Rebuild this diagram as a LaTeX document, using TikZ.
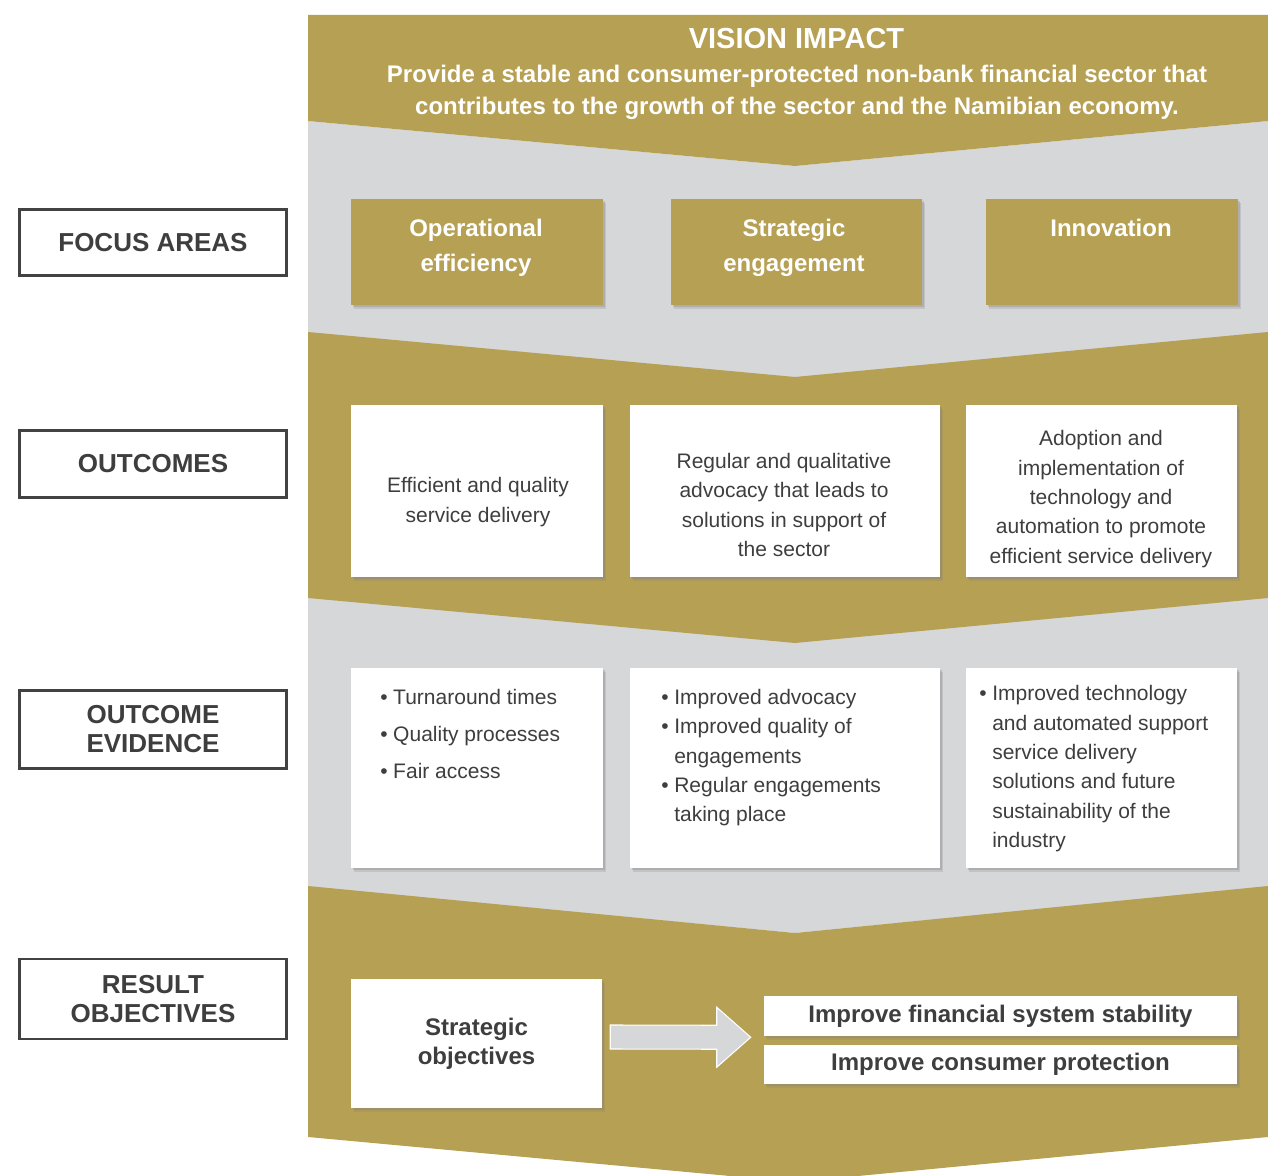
\documentclass[tikz,border=0pt]{standalone}
\usepackage{fontspec}
\setmainfont{Liberation Sans}
\usetikzlibrary{shadows,calc}
\definecolor{gold}{RGB}{182,160,83}
\definecolor{band}{RGB}{214,215,217}
\definecolor{ink}{RGB}{62,62,62}
\definecolor{frame}{RGB}{66,66,66}
% bullet item with hanging indent
\newcommand\itm[1]{\makebox[9.75pt][l]{\textbullet}#1}
\newcommand\cnt[1]{\hspace*{9.75pt}#1}
\begin{document}
\begin{tikzpicture}[x=0.75pt,y=-0.75pt,
  boxshadow/.style={
    drop shadow={opacity=0.22,shadow xshift=2.6pt,shadow yshift=-3pt},
    drop shadow={opacity=0.3,shadow xshift=1.2pt,shadow yshift=-1.4pt}},
  labelbox/.style={draw=frame,line width=2.2pt,fill=white,inner sep=0pt,
    minimum width=200pt,align=center,text=ink,
    font=\fontsize{19.5pt}{21.75pt}\selectfont\bfseries},
  focusbox/.style={fill=gold,boxshadow,inner sep=0pt,minimum height=79.5pt},
  focustext/.style={anchor=north,inner sep=0pt,align=center,text=white,
    font=\fontsize{18pt}{26.25pt}\selectfont\bfseries},
  whitebox/.style={fill=white,boxshadow,inner sep=0pt},
  bodytext/.style={inner sep=0pt,text=ink,font=\fontsize{15.75pt}{22pt}\selectfont},
  listtext/.style={bodytext,anchor=north west,align=left},
  goaltext/.style={text=ink,font=\fontsize{18pt}{21.75pt}\selectfont\bfseries,align=center},
  arrowfill/.style={fill=band,draw=white,line width=0.8pt}
]
\useasboundingbox (0,0) rectangle (1268,1176);

% chevron bands
\fill[band] (308,121) -- (795,166) -- (1268,121) -- (1268,887) -- (795,933) -- (308,887) -- cycle;
\fill[gold] (308,15) -- (1268,15) -- (1268,121) -- (795,166) -- (308,121) -- cycle;
\fill[gold] (308,332) -- (795,377) -- (1268,332) -- (1268,598) -- (795,643) -- (308,598) -- cycle;
\fill[gold] (308,886) -- (795,933) -- (1268,886) -- (1268,1137) -- (858,1176) -- (730,1176) -- (308,1137) -- cycle;

% vision statement
\node[text=white,font=\fontsize{21.75pt}{24pt}\selectfont\bfseries] (vtitle) at (796.5,39) {VISION IMPACT};
\node[text=white,align=center,font=\fontsize{18pt}{24pt}\selectfont\bfseries] (vtext) at (797,92)
  {Provide a stable and consumer-protected non-bank financial sector that\\
   contributes to the growth of the sector and the Namibian economy.};

% row labels
\node[labelbox,minimum height=50pt] (lfocus) at (153,242.5) {FOCUS AREAS};
\node[labelbox,minimum height=50pt] (lout) at (153,464) {OUTCOMES};
\node[labelbox,minimum height=58pt] (levid) at (153,729.5) {OUTCOME\\EVIDENCE};
\node[labelbox,minimum height=60pt] (lres) at (153,999) {RESULT\\OBJECTIVES};

% focus areas
\node[focusbox,minimum width=189pt] (fa1) at (477,252) {};
\node[focusbox,minimum width=188.25pt] (fa2) at (796.5,252) {};
\node[focusbox,minimum width=189pt] (fa3) at (1112,252) {};
\node[focustext] (fa1t) at (476,219) {Operational\\efficiency};
\node[focustext] (fa2t) at (794,219) {Strategic\\engagement};
\node[focustext] (fa3t) at (1111,219) {Innovation};

% outcomes
\node[whitebox,minimum width=189pt,minimum height=129pt] (oc1) at (477,491) {};
\node[whitebox,minimum width=232.5pt,minimum height=129pt] (oc2) at (785,491) {};
\node[whitebox,minimum width=203.25pt,minimum height=129pt] (oc3) at (1101.5,491) {};
\node[bodytext,align=center] (oc1t) at (478,502) {Efficient and quality\\service delivery};
\node[bodytext,align=center] (oc2t) at (784,505) {Regular and qualitative\\advocacy that leads to\\solutions in support of\\the sector};
\node[bodytext,align=center] (oc3t) at (1101,499) {Adoption and\\implementation of\\technology and\\automation to promote\\efficient service delivery};

% outcome evidence
\node[whitebox,minimum width=189pt,minimum height=150pt] (ev1) at (477,768) {};
\node[whitebox,minimum width=232.5pt,minimum height=150pt] (ev2) at (785,768) {};
\node[whitebox,minimum width=203.25pt,minimum height=150pt] (ev3) at (1101.5,768) {};
\node[listtext] (ev1t) at (380,689)
  {\itm{Turnaround times}\\[5.75pt]\itm{Quality processes}\\[5.75pt]\itm{Fair access}};
\node[listtext] (ev2t) at (661,689)
  {\itm{Improved advocacy}\\\itm{Improved quality of}\\\cnt{engagements}\\\itm{Regular engagements}\\\cnt{taking place}};
\node[listtext] (ev3t) at (979,685.5)
  {\itm{Improved technology}\\\cnt{and automated support}\\\cnt{service delivery}\\\cnt{solutions and future}\\\cnt{sustainability of the}\\\cnt{industry}};

% result objectives
\node[whitebox,goaltext,minimum width=188.25pt,minimum height=96.75pt] (so) at (476.5,1043.5) {Strategic\\objectives};
\node[whitebox,goaltext,minimum width=354.75pt,minimum height=30pt] (imp1) at (1000.5,1016) {Improve financial system stability};
\node[whitebox,goaltext,minimum width=354.75pt,minimum height=29.25pt] (imp2) at (1000.5,1064.5) {Improve consumer protection};

% block arrow from the strategic objectives to the two goals
\coordinate (arrS) at ($(so.east)+(8,-6.5)$);
\coordinate (arrT) at ($(imp1.west)!0.5!(imp2.west)+(-13,-3)$);
\draw[arrowfill] ($(arrS)+(0,-12)$) -- ($(arrT)+(-34,-12)$) -- ($(arrT)+(-34,-30)$) -- (arrT)
  -- ($(arrT)+(-34,30)$) -- ($(arrT)+(-34,12)$) -- ($(arrS)+(0,12)$) -- cycle;
\end{tikzpicture}
\end{document}
